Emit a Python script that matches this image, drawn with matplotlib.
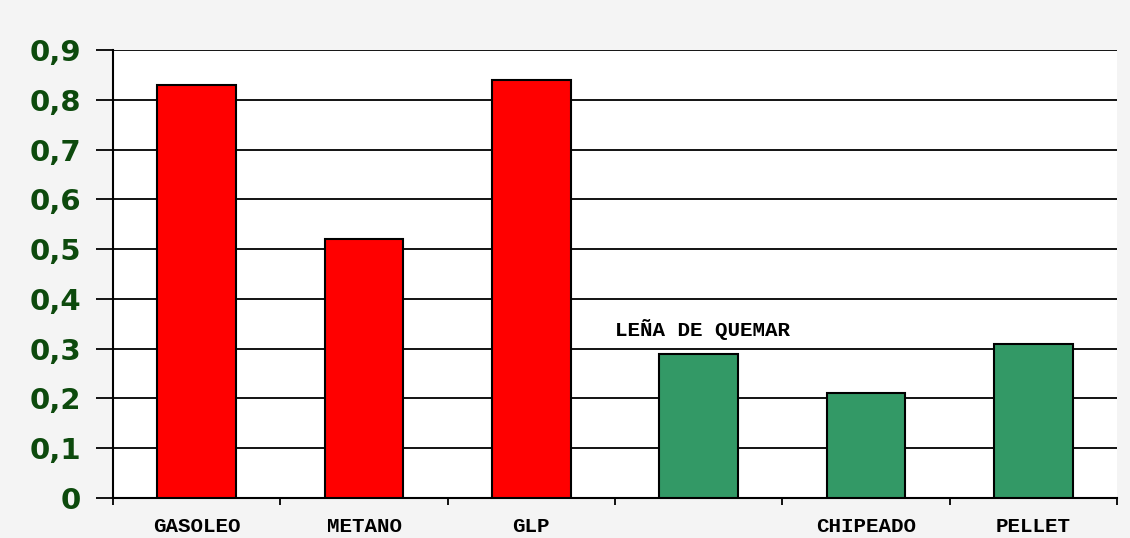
import matplotlib
matplotlib.use("Agg")
import matplotlib.pyplot as plt
import numpy as np

categorias = ["GASOLEO", "METANO", "GLP", "", "CHIPEADO", "PELLET"]
valores = [0.83, 0.52, 0.84, 0.29, 0.21, 0.31]
colores = ["#ff0000", "#ff0000", "#ff0000", "#339966", "#339966", "#339966"]
etiqueta_lena = "LEÑA DE QUEMAR"
yticks = [0, 0.1, 0.2, 0.3, 0.4, 0.5, 0.6, 0.7, 0.8, 0.9]

fig = plt.figure(figsize=(11.3, 5.38), dpi=100, facecolor="#f4f4f4")
ax = fig.add_axes([0.1, 0.0743, 0.8885, 0.8327])
ax.set_facecolor("white")

x = np.arange(len(valores))
ax.bar(x, valores, width=0.47, color=colores, edgecolor="black", linewidth=1.5, zorder=3)

ax.set_xlim(-0.5, len(valores) - 0.5)
ax.set_ylim(0, 0.9)

ax.set_yticks(yticks)
ax.set_yticklabels([("%.1f" % v).replace(".", ",") if v else "0" for v in yticks])
ax.yaxis.grid(True, color="black", linewidth=1.3, zorder=1)
ax.tick_params(axis="y", length=12, width=1.3, pad=11, labelsize=21, labelcolor="#0d4a0d")
for lab in ax.get_yticklabels():
    lab.set_fontweight("bold")
    lab.set_family("DejaVu Sans")

ax.set_xticks(x)
ax.set_xticklabels(categorias, family="Liberation Mono", fontweight="bold", fontsize=15)
ax.tick_params(axis="x", length=0, pad=14)
ax.set_xticks(np.arange(len(valores) + 1) - 0.5, minor=True)
ax.tick_params(axis="x", which="minor", length=5, width=1.3, direction="out")

ax.text(3.02, valores[3] + 0.027, etiqueta_lena, ha="center", va="bottom",
        family="Liberation Mono", fontweight="bold", fontsize=15)

for s in ["top", "right"]:
    ax.spines[s].set_visible(False)
ax.spines["left"].set_linewidth(1.5)
ax.spines["bottom"].set_linewidth(1.5)

fig.savefig("out.png", dpi=100, facecolor=fig.get_facecolor())
